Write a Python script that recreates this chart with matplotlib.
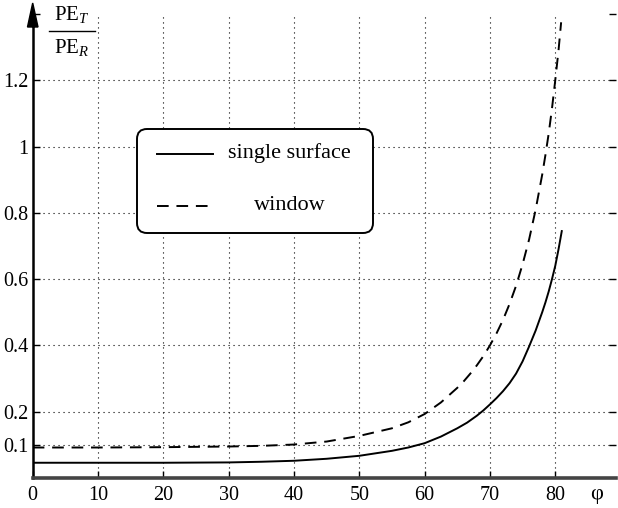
import numpy as np
import matplotlib
matplotlib.use('Agg')
import matplotlib.pyplot as plt
from matplotlib.lines import Line2D
from matplotlib.patches import FancyBboxPatch, Polygon
from matplotlib.transforms import IdentityTransform

plt.rcParams['font.family'] = ['Liberation Serif', 'DejaVu Serif']
plt.rcParams['mathtext.fontset'] = 'custom'
plt.rcParams['mathtext.rm'] = 'Liberation Serif'
plt.rcParams['mathtext.it'] = 'Liberation Serif:italic'

# angle of incidence (deg) and power ratio
phi_single = [0, 10, 20, 30, 35, 40, 45, 50, 55, 57.5, 60, 62.5, 65, 66.5, 68,
              69, 70, 71, 72, 73, 74, 75, 76, 77, 78, 78.5, 79, 79.5, 80,
              80.5, 81]
ratio_single = [0.046, 0.046, 0.046, 0.047, 0.049, 0.052, 0.058, 0.067, 0.082,
                0.092, 0.105, 0.125, 0.15, 0.167, 0.188, 0.204, 0.222, 0.241,
                0.262, 0.286, 0.315, 0.352, 0.397, 0.445, 0.5, 0.53, 0.563,
                0.6, 0.64, 0.69, 0.745]

phi_window = [0, 10, 20, 30, 35, 40, 45, 50, 55, 57.5, 60, 62.5, 65, 66, 67,
              68, 69, 70, 71, 72, 73, 74, 75, 76, 77, 78, 78.5, 79, 79.5, 80,
              80.5, 80.9]
ratio_window = [0.092, 0.092, 0.093, 0.095, 0.097, 0.101, 0.11, 0.127, 0.15,
                0.168, 0.193, 0.228, 0.272, 0.292, 0.315, 0.34, 0.368, 0.4,
                0.436, 0.477, 0.525, 0.58, 0.645, 0.72, 0.81, 0.915, 0.975,
                1.04, 1.115, 1.2, 1.29, 1.375]

x_ticks = [0, 10, 20, 30, 40, 50, 60, 70, 80]
y_ticks = [0.1, 0.2, 0.4, 0.6, 0.8, 1.0, 1.2, 1.4]
y_ticklabels = ['0.1', '0.2', '0.4', '0.6', '0.8', '1', '1.2', '']
legend_labels = ['single surface', 'window']

W, H = 618, 508
fig = plt.figure(figsize=(W / 100, H / 100), dpi=100)
ax = fig.add_axes([32.7 / W, 30 / H, (616 - 32.7) / W, (478 - 14) / H])

# dotted grid (not at the top limit)
for yv in y_ticks[:-1]:
    ax.axhline(yv, color='k', lw=0.8, ls=(0, (1, 3.5)), zorder=1)
for xv in x_ticks[1:]:
    ax.axvline(xv, color='k', lw=0.8, ls=(0, (1, 3.5)), zorder=1)

ax.plot(phi_single, ratio_single, color='k', lw=1.4, zorder=3)
ax.plot(phi_window, ratio_window, color='k', lw=1.4, ls=(0, (6, 4)), zorder=3)

ax.set_xlim(0, 89.3)
ax.set_ylim(0, 1.4)
ax.set_xticks(x_ticks)
ax.set_yticks(y_ticks)
ax.set_yticklabels(y_ticklabels)
ax.tick_params(axis='both', direction='in', length=5, width=1, labelsize=14.5)
ax.tick_params(axis='y', right=True, pad=3)
ax.tick_params(axis='x', pad=6)
ax.spines['top'].set_visible(False)
ax.spines['right'].set_visible(False)
ax.spines['left'].set_linewidth(1.8)
ax.spines['bottom'].set_linewidth(2.6)
ax.spines['bottom'].set_color('#444444')

px = IdentityTransform()

# y axis arrow
fig.add_artist(Line2D([32.7, 32.7], [H - 14, H - 26], transform=px, color='k', lw=1.8))
fig.add_artist(Polygon([(27.5, H - 27), (38, H - 27), (32.7, H - 3)], closed=True,
                       transform=px, color='k'))

# y label as a fraction
fig.text(72, H - 20, r'PE$_T$', transform=px, ha='center', va='baseline', fontsize=15)
fig.add_artist(Line2D([49, 95], [H - 31, H - 31], transform=px, color='k', lw=1))
fig.text(72, H - 53, r'PE$_R$', transform=px, ha='center', va='baseline', fontsize=15)

# x label
fig.text(597, H - 494, 'φ', transform=px, ha='center', va='center', fontsize=16)

# legend box
fig.add_artist(FancyBboxPatch((137, H - 233), 236, 104,
                              boxstyle='round,pad=0,rounding_size=10',
                              transform=px, fc='white', ec='k', lw=1.4, zorder=5))
fig.add_artist(Line2D([157, 213], [H - 154, H - 154], transform=px, color='k', lw=1.4, zorder=6))
fig.add_artist(Line2D([157, 213], [H - 206, H - 206], transform=px, color='k', lw=1.4,
                      ls=(0, (6, 4)), zorder=6))
fig.text(289.5, H - 153, legend_labels[0], transform=px, ha='center', va='center',
         fontsize=16, zorder=7)
fig.text(289.5, H - 205, legend_labels[1], transform=px, ha='center', va='center',
         fontsize=16, zorder=7)

fig.savefig('out.png', dpi=100)
